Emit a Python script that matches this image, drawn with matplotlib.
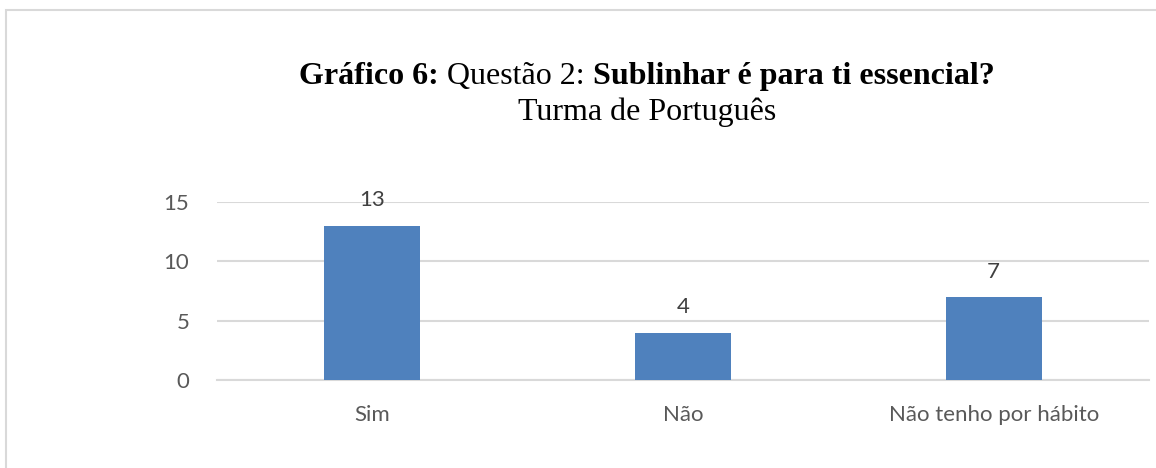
import matplotlib.pyplot as plt
from matplotlib.patches import Rectangle

# data
categories = ["Sim", "Não", "Não tenho por hábito"]
values = [13, 4, 7]
yticks = [0, 5, 10, 15]

title_parts = [("Gráfico 6:", "bold"), (" Questão 2: ", "normal"),
               ("Sublinhar é para ti essencial?", "bold")]
subtitle = "Turma de Português"

bar_color = "#4F81BD"
grid_color = "#D9D9D9"
text_color = "#595959"
label_font = "Lato"
title_font = "Liberation Serif"

fig = plt.figure(figsize=(11.56, 4.68), dpi=100)

# chart frame (cropped at right/bottom like the source)
fig.patches.append(Rectangle((6 / 1156, -0.1), 1.2, 1 - 10 / 468 + 0.1,
                             transform=fig.transFigure, fill=False,
                             edgecolor="#D9D9D9", linewidth=1.5))

ax = fig.add_axes([217 / 1156, 1 - 380 / 468, (1149 - 217) / 1156, 178 / 468])
x = range(len(categories))
bars = ax.bar(x, values, width=0.31, color=bar_color, zorder=3)
ax.set_xlim(-0.5, len(categories) - 0.5)
ax.set_ylim(0, 15)
ax.set_yticks(yticks)
ax.set_xticks(list(x))
ax.set_xticklabels(categories)
ax.grid(axis="y", color=grid_color, linewidth=1.5, zorder=0)
for s in ["top", "right", "left"]:
    ax.spines[s].set_visible(False)
ax.spines["bottom"].set_color(grid_color)
ax.spines["bottom"].set_linewidth(1.5)
ax.spines["bottom"].set_zorder(1)
ax.tick_params(length=0, labelsize=16, labelcolor=text_color)
ax.tick_params(axis="x", pad=18)
ax.tick_params(axis="y", pad=20)
for lab in ax.get_xticklabels() + ax.get_yticklabels():
    lab.set_fontfamily(label_font)

for b, v in zip(bars, values):
    ax.annotate(str(v), (b.get_x() + b.get_width() / 2, v),
                xytext=(0, 11), textcoords="offset points",
                ha="center", va="bottom", fontsize=16,
                color="#404040", family=label_font)

# title with mixed weights
fig.canvas.draw()
r = fig.canvas.get_renderer()
pieces = []
for txt, w in title_parts:
    t = fig.text(0, 0, txt, fontsize=23, weight=w, family=title_font,
                 color="black", va="baseline", ha="left")
    pieces.append(t)
widths = [p.get_window_extent(r).width for p in pieces]
total = sum(widths)
cx = 647
xs = cx - total / 2
for p, wdt in zip(pieces, widths):
    p.set_position((xs / 1156, 1 - 84 / 468))
    xs += wdt
fig.text(cx / 1156, 1 - 120 / 468, subtitle, fontsize=23, family=title_font,
         ha="center", va="baseline", color="black")

fig.savefig("out.png", dpi=100)
